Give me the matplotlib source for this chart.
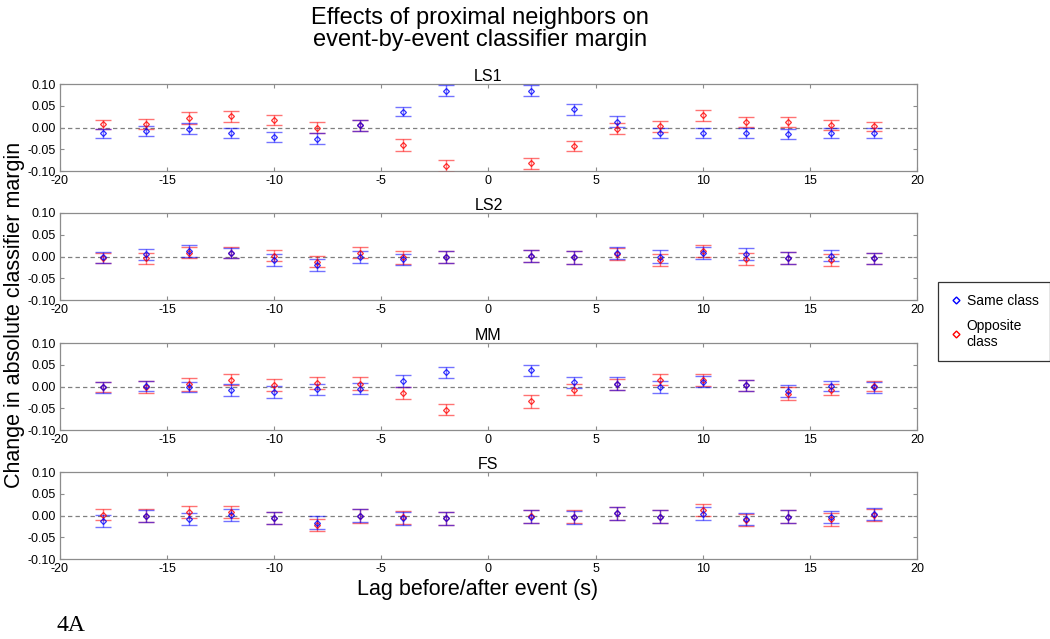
import numpy as np
import matplotlib
matplotlib.use("Agg")
import matplotlib.pyplot as plt
from matplotlib.ticker import FormatStrFormatter
from matplotlib.lines import Line2D

plt.rcParams["font.family"] = ["Liberation Sans", "DejaVu Sans"]
plt.rcParams["axes.unicode_minus"] = False

LAGS = [-18, -16, -14, -12, -10, -8, -6, -4, -2, 2, 4, 6, 8, 10, 12, 14, 16, 18]
PANELS = ["LS1", "LS2", "MM", "FS"]

LS1_SAME = [-0.013, -0.008, -0.002, -0.012, -0.022, -0.025, 0.005, 0.037, 0.085,
            0.085, 0.042, 0.014, -0.012, -0.012, -0.012, -0.015, -0.012, -0.012]
LS1_SAME_ERR = [0.010, 0.011, 0.012, 0.012, 0.011, 0.012, 0.012, 0.011, 0.013,
                0.013, 0.012, 0.012, 0.012, 0.012, 0.012, 0.012, 0.011, 0.011]
LS1_OPP = [0.008, 0.008, 0.022, 0.026, 0.018, 0.000, 0.005, -0.040, -0.088,
           -0.082, -0.042, -0.002, 0.003, 0.028, 0.013, 0.013, 0.006, 0.003]
LS1_OPP_ERR = [0.010, 0.011, 0.013, 0.012, 0.011, 0.012, 0.012, 0.013, 0.013,
               0.012, 0.012, 0.012, 0.012, 0.013, 0.012, 0.012, 0.011, 0.011]

LS2_SAME = [-0.002, 0.005, 0.013, 0.008, -0.008, -0.020, -0.001, -0.006, -0.001,
            0.002, -0.002, 0.008, 0.000, 0.009, 0.006, -0.003, 0.002, -0.004]
LS2_SAME_ERR = [0.012, 0.012, 0.013, 0.012, 0.013, 0.014, 0.013, 0.013, 0.013,
                0.014, 0.014, 0.014, 0.014, 0.014, 0.013, 0.013, 0.013, 0.013]
LS2_OPP = [-0.003, -0.004, 0.009, 0.009, 0.002, -0.012, 0.009, -0.002, -0.001,
           0.002, -0.002, 0.006, -0.008, 0.013, -0.006, -0.003, -0.008, -0.004]
LS2_OPP_ERR = [0.011, 0.012, 0.013, 0.012, 0.013, 0.013, 0.013, 0.014, 0.013,
               0.014, 0.014, 0.013, 0.014, 0.014, 0.014, 0.013, 0.013, 0.013]

MM_SAME = [-0.002, 0.002, -0.001, -0.008, -0.012, -0.006, -0.005, 0.013, 0.033,
           0.037, 0.010, 0.007, -0.001, 0.011, 0.003, -0.010, 0.001, -0.002]
MM_SAME_ERR = [0.012, 0.012, 0.012, 0.013, 0.014, 0.013, 0.013, 0.013, 0.013,
               0.013, 0.013, 0.014, 0.014, 0.013, 0.012, 0.014, 0.012, 0.013]
MM_OPP = [-0.001, -0.001, 0.005, 0.016, 0.004, 0.008, 0.007, -0.015, -0.053,
          -0.034, -0.007, 0.005, 0.016, 0.015, 0.003, -0.016, -0.007, 0.001]
MM_OPP_ERR = [0.012, 0.013, 0.014, 0.013, 0.013, 0.013, 0.014, 0.014, 0.013,
              0.014, 0.013, 0.013, 0.013, 0.014, 0.012, 0.014, 0.013, 0.012]

FS_SAME = [-0.013, -0.001, -0.007, 0.002, -0.006, -0.016, 0.000, -0.006, -0.006,
           -0.002, -0.004, 0.005, -0.002, 0.004, -0.007, -0.002, -0.004, 0.004]
FS_SAME_ERR = [0.014, 0.014, 0.014, 0.014, 0.014, 0.015, 0.015, 0.015, 0.015,
               0.015, 0.015, 0.015, 0.015, 0.015, 0.014, 0.014, 0.014, 0.014]
FS_OPP = [0.002, 0.000, 0.008, 0.008, -0.006, -0.021, 0.000, -0.004, -0.006,
          -0.001, -0.003, 0.005, -0.002, 0.013, -0.010, -0.002, -0.008, 0.002]
FS_OPP_ERR = [0.013, 0.015, 0.014, 0.014, 0.014, 0.014, 0.016, 0.015, 0.015,
              0.015, 0.015, 0.015, 0.015, 0.014, 0.014, 0.014, 0.015, 0.014]

DATA = {
    "LS1": (LS1_SAME, LS1_SAME_ERR, LS1_OPP, LS1_OPP_ERR),
    "LS2": (LS2_SAME, LS2_SAME_ERR, LS2_OPP, LS2_OPP_ERR),
    "MM": (MM_SAME, MM_SAME_ERR, MM_OPP, MM_OPP_ERR),
    "FS": (FS_SAME, FS_SAME_ERR, FS_OPP, FS_OPP_ERR),
}

BLUE = "#0000ff"
RED = "#ff0000"
FRAME = "#8c8c8c"

# axes rectangles in figure fraction (left, bottom, width, height)
TOPS = [0.8685, 0.6667, 0.4632, 0.2613]
HEIGHT = 0.1365
LEFT = 0.0571
WIDTH = 0.8162


def draw_series(ax, y, err, color):
    ax.errorbar(LAGS, y, yerr=err, fmt="none", ecolor=color, elinewidth=1.0,
                capsize=5.5, capthick=1.0, alpha=0.55, zorder=3)
    ax.plot(LAGS, y, linestyle="none", marker="D", markersize=3.0,
            markerfacecolor="none", markeredgecolor=color, markeredgewidth=0.9,
            alpha=0.8, zorder=4)


def main():
    fig = plt.figure(figsize=(10.5, 6.39), dpi=100)

    for top, name in zip(TOPS, PANELS):
        ax = fig.add_axes([LEFT, top - HEIGHT, WIDTH, HEIGHT])
        same, same_err, opp, opp_err = DATA[name]
        ax.axhline(0, color="#808080", linestyle=(0, (3.5, 2.5)), linewidth=0.9, zorder=1)
        draw_series(ax, opp, opp_err, RED)
        draw_series(ax, same, same_err, BLUE)
        ax.set_xlim(-20, 20)
        ax.set_ylim(-0.10, 0.10)
        ax.set_xticks(np.arange(-20, 21, 5))
        ax.set_yticks([-0.10, -0.05, 0.00, 0.05, 0.10])
        ax.yaxis.set_major_formatter(FormatStrFormatter("%.2f"))
        ax.tick_params(direction="in", which="both", top=True, right=True,
                       length=3, width=0.8, color=FRAME, labelsize=9)
        ax.tick_params(axis="x", pad=3)
        ax.tick_params(axis="y", pad=3)
        for sp in ax.spines.values():
            sp.set_color(FRAME)
            sp.set_linewidth(0.9)
        ax.set_title(name, fontsize=11.5, pad=2)

    handles = [
        Line2D([], [], linestyle="none", marker="D", markersize=3.5,
               markerfacecolor="none", markeredgecolor=BLUE, label="Same class"),
        Line2D([], [], linestyle="none", marker="D", markersize=3.5,
               markerfacecolor="none", markeredgecolor=RED, label="Opposite\nclass"),
    ]
    leg = fig.legend(handles=handles, loc="upper left", bbox_to_anchor=(0.893, 0.559),
                     fontsize=10, frameon=True, fancybox=False, handlelength=0.9,
                     handletextpad=0.35, borderpad=0.85, labelspacing=0.8, borderaxespad=0)
    leg.get_frame().set_edgecolor("black")
    leg.get_frame().set_linewidth(0.9)

    fig.text(0.457, 0.955, "Effects of proximal neighbors on\nevent-by-event classifier margin",
             ha="center", va="center", fontsize=17, linespacing=1.0)
    fig.text(0.014, 0.507, "Change in absolute classifier margin", rotation=90,
             ha="center", va="center", fontsize=15.5)
    fig.text(0.455, 0.077, "Lag before/after event (s)", ha="center", va="center", fontsize=15.5)
    fig.text(0.054, 0.004, "4A", ha="left", va="bottom", fontsize=17,
             family=["Liberation Serif", "DejaVu Serif"])

    fig.savefig("out.png", dpi=100)
    plt.close(fig)


if __name__ == "__main__":
    main()
